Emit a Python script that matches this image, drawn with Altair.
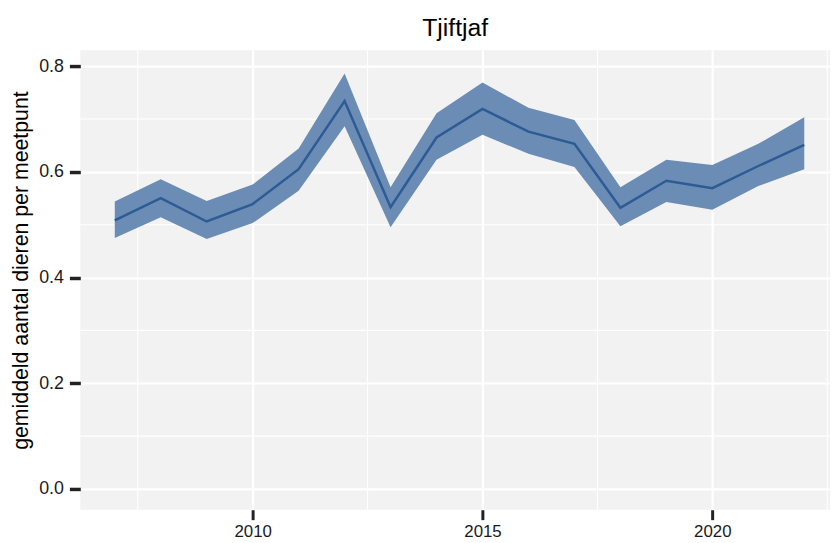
import altair as alt
import pandas as pd

years = list(range(2007, 2023))
mean = [0.508, 0.550, 0.506, 0.539, 0.605, 0.734, 0.533, 0.665,
        0.719, 0.676, 0.653, 0.532, 0.583, 0.569, 0.611, 0.651]
lower = [0.475, 0.514, 0.473, 0.503, 0.564, 0.686, 0.495, 0.623,
         0.670, 0.634, 0.609, 0.497, 0.543, 0.528, 0.573, 0.605]
upper = [0.544, 0.586, 0.545, 0.576, 0.644, 0.786, 0.571, 0.711,
         0.769, 0.721, 0.698, 0.571, 0.623, 0.613, 0.653, 0.703]
x_major = [2010, 2015, 2020]
y_major = [0.0, 0.2, 0.4, 0.6, 0.8]
x_minor = [2007.5, 2012.5, 2017.5, 2022.5]
y_minor = [0.1, 0.3, 0.5, 0.7]

df = pd.DataFrame({"jaar": years, "gem": mean, "lo": lower, "hi": upper})

FONT = "Liberation Sans"
xscale = alt.Scale(domain=[2006.25, 2022.56], nice=False, zero=False)
yscale = alt.Scale(domain=[-0.0393, 0.830], nice=False, zero=False)

xaxis = alt.Axis(values=x_major, format="d", title=None, domain=False,
                 tickSize=10, tickWidth=3, tickColor="#222222",
                 labelFontSize=17, labelFont=FONT, labelColor="#1a1a1a",
                 labelPadding=4, grid=True, gridColor="white", gridWidth=2.2)
yaxis = alt.Axis(values=y_major, format=".1f", title="gemiddeld aantal dieren per meetpunt",
                 domain=False, tickSize=11, tickWidth=3.5, tickColor="#222222",
                 labelFontSize=18, labelFont=FONT, labelColor="#1a1a1a",
                 labelPadding=6, grid=True, gridColor="white", gridWidth=2.2,
                 titleFont=FONT, titleFontSize=21.5, titleFontWeight="normal",
                 titleColor="#000000", titlePadding=6, titleY=222)

minor_x = alt.Chart(pd.DataFrame({"v": x_minor})).mark_rule(
    color="white", strokeWidth=1.1).encode(x=alt.X("v:Q", scale=xscale, axis=xaxis))
minor_y = alt.Chart(pd.DataFrame({"v": y_minor})).mark_rule(
    color="white", strokeWidth=1.1).encode(y=alt.Y("v:Q", scale=yscale, axis=yaxis))

band = alt.Chart(df).mark_area(color="#6b8db5", opacity=1).encode(
    x=alt.X("jaar:Q", scale=xscale, axis=xaxis),
    y=alt.Y("lo:Q", scale=yscale, axis=yaxis),
    y2="hi:Q",
)
line = alt.Chart(df).mark_line(color="#2d5b94", strokeWidth=2.5).encode(
    x=alt.X("jaar:Q", scale=xscale, axis=xaxis),
    y=alt.Y("gem:Q", scale=yscale, axis=yaxis),
)

chart = alt.layer(minor_x, minor_y, band, line).properties(
    width=757, height=464,
    background="white",
    title=alt.TitleParams("Tjiftjaf", fontSize=25, font=FONT, fontWeight="normal",
                          anchor="middle", baseline="alphabetic", offset=13, dy=24,
                          color="#000000"),
    padding={"left": 73, "top": 40, "right": 0, "bottom": 38},
    autosize=alt.AutoSizeParams(type="none"),
).configure_view(fill="#f2f2f2", stroke=None)

chart.save("out.html", embed_options={"renderer": "svg", "actions": False})
